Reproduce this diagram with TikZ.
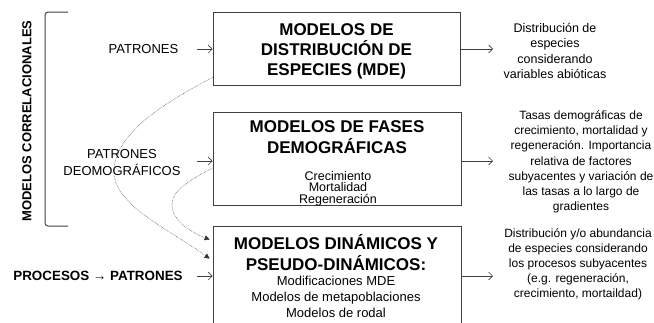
\documentclass[tikz,border=0pt]{standalone}
\usepackage{fontspec}
\setmainfont{Liberation Sans}
\usetikzlibrary{arrows.meta}
\definecolor{edge}{HTML}{404040}
\tikzset{
  boxnode/.style={draw=edge, line width=0.8pt, inner sep=0pt},
  titletxt/.style={font=\fontsize{17}{20}\selectfont\bfseries, anchor=base, inner sep=0pt},
  bodytxt/.style={font=\fontsize{12.5}{15}\selectfont, anchor=base, inner sep=0pt},
  bodytxtb/.style={font=\fontsize{13}{15}\selectfont, anchor=base, inner sep=0pt},
  sidetxt/.style={font=\fontsize{12.5}{15}\selectfont, anchor=base, inner sep=0pt},
  sidetxts/.style={font=\fontsize{12}{15}\selectfont, anchor=base, inner sep=0pt},
  lefttxt/.style={font=\fontsize{13}{15}\selectfont, anchor=base, inner sep=0pt},
  openarrow/.style={draw=edge, line width=0.6pt, -{Straight Barb[length=4pt,width=8pt]}},
  dotcurve/.style={draw=black!80, line width=0.5pt, densely dotted, -{Triangle[length=5pt,width=5pt]}}
}
\begin{document}
\begin{tikzpicture}[x=1pt,y=-1pt]
\path[use as bounding box, clip] (0,0) rectangle (654,322);

% boxes
\node[boxnode, minimum width=247pt, minimum height=73pt] (box1) at (336.5,48.5) {};
\node[boxnode, minimum width=248pt, minimum height=93pt] (box2) at (337,158.5) {};
\node[boxnode, minimum width=248pt, minimum height=130pt] (box3) at (337,291) {};

% box 1 text
\node[titletxt] (t11) at (336.5,35) {MODELOS DE};
\node[titletxt] (t12) at (336.5,55) {DISTRIBUCIÓN DE};
\node[titletxt] (t13) at (336.5,75) {ESPECIES (MDE)};

% box 2 text
\node[titletxt] (t21) at (337,132.5) {MODELOS DE FASES};
\node[titletxt] (t22) at (337,153.5) {DEMOGRÁFICAS};
\node[bodytxt] (t23) at (338,180) {Crecimiento};
\node[bodytxt] (t24) at (338,191.8) {Mortalidad};
\node[bodytxt] (t25) at (338,203.2) {Regeneración};

% box 3 text
\node[titletxt] (t31) at (336,249) {MODELOS DINÁMICOS Y};
\node[titletxt] (t32) at (336,270.5) {PSEUDO-DINÁMICOS:};
\node[bodytxtb] (t33) at (336,285.5) {Modificaciones MDE};
\node[bodytxtb] (t34) at (336,301) {Modelos de metapoblaciones};
\node[bodytxtb] (t35) at (336,317) {Modelos de rodal};

% left labels
\node[font=\fontsize{13}{15}\selectfont\bfseries, rotate=90, inner sep=0pt] (vert) at (27,121) {MODELOS CORRELACIONALES};
\node[lefttxt] (l1) at (143.5,53.5) {PATRONES};
\node[lefttxt] (l2a) at (122,158) {PATRONES};
\node[lefttxt] (l2b) at (122,175) {DEOMOGRÁFICOS};
\node[lefttxt, font=\fontsize{13.4}{15}\selectfont\bfseries] (l3) at (98,280.5) {PROCESOS → PATRONES};

% bracket
\draw[edge, line width=1pt, rounded corners=3pt] (68,12) -- (45,12) -- (45,226) -- (68,226);

% left arrows
\coordinate (a1) at (197,49);
\coordinate (a2) at (197,161);
\coordinate (a3) at (197,276);
\draw[openarrow] (a1) -- (box1.west |- a1);
\draw[openarrow] (a2) -- (box2.west |- a2);
\draw[openarrow] (a3) -- (box3.west |- a3);

% right arrows
\coordinate (r1) at (493,49);
\coordinate (r2) at (493,161);
\coordinate (r3) at (493,276);
\draw[openarrow] (box1.east |- r1) -- (r1);
\draw[openarrow] (box2.east |- r2) -- (r2);
\draw[openarrow] (box3.east |- r3) -- (r3);

% right texts
\foreach \t [count=\i, evaluate=\i as \yy using {32+15.5*(\i-1)}] in {Distribución de, especies, considerando, variables abióticas}
  \node[sidetxt] (ra\i) at (555,\yy) {\t};
\foreach \t [count=\i, evaluate=\i as \yy using {119.5+15.2*(\i-1)}] in {Tasas demográficas de, {crecimiento, mortalidad y}, regeneración. Importancia, relativa de factores, subyacentes y variación de, las tasas a lo largo de, gradientes}
  \node[sidetxts] (rb\i) at (581,\yy) {\t};
\foreach \t [count=\i, evaluate=\i as \yy using {237+15.2*(\i-1)}] in {Distribución y/o abundancia, de especies considerando, los procesos subyacentes, {(e.g. regeneración,}, {crecimiento, mortaildad)}}
  \node[sidetxts] (rc\i) at (578,\yy) {\t};

% dotted curves
\coordinate (c1e) at ([xshift=-3pt,yshift=-33pt]box3.north west);
\coordinate (c2e) at ([xshift=-3pt,yshift=-14pt]box3.north west);
\draw[dotcurve] ([yshift=8pt]box1.south west) .. controls (160,105) and (114,135) .. (114,172)
   .. controls (114,205) and (170,230) .. (c1e);
\draw[dotcurve] ([yshift=-9.5pt]box2.west) .. controls (190,180) and (172,190) .. (172,205)
   .. controls (172,220) and (190,232) .. (c2e);
\end{tikzpicture}
\end{document}
